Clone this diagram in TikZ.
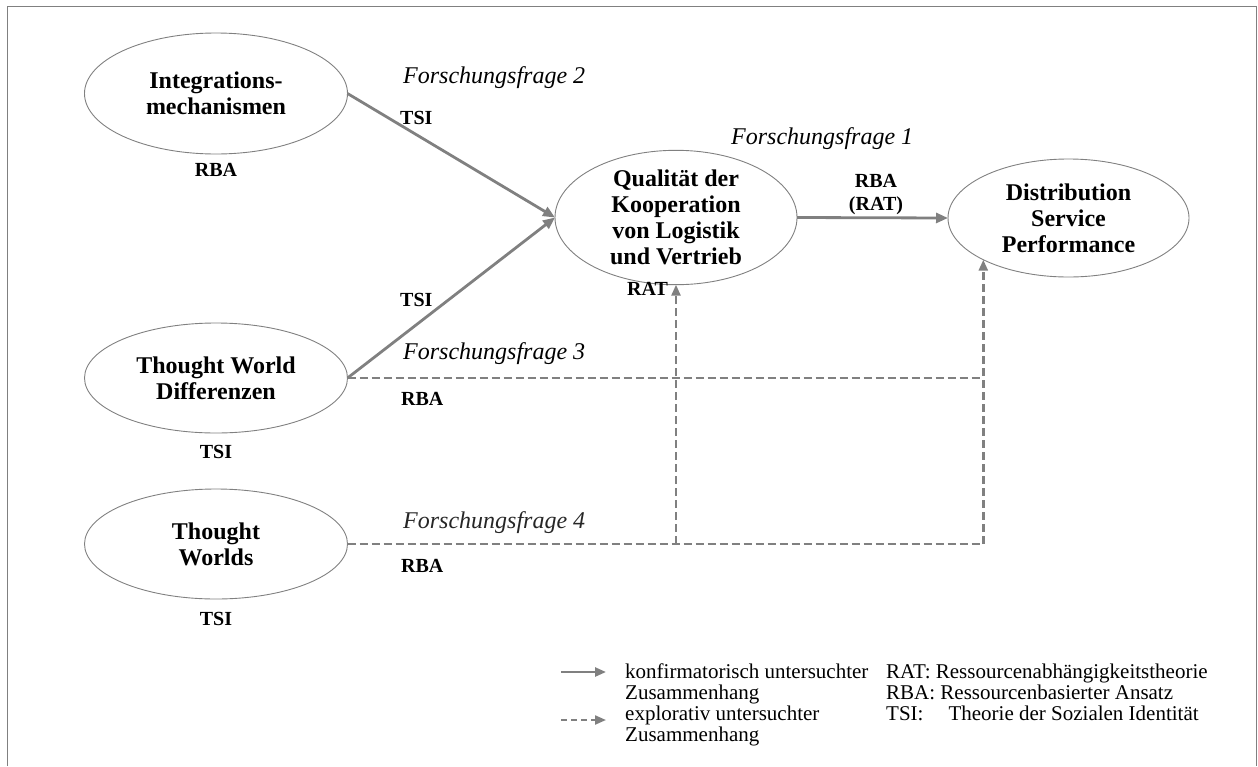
\documentclass[tikz,border=0pt]{standalone}
\usepackage{fontspec}
\setmainfont{Liberation Serif}
\usetikzlibrary{arrows.meta,shapes.geometric}
\definecolor{lg}{RGB}{128,128,128}
\begin{document}
\begin{tikzpicture}[x=1pt,y=-1pt,
  ell/.style={draw=lg,line width=0.9pt,ellipse,inner sep=0pt,outer sep=0pt,align=center,font=\fontsize{24}{26}\selectfont\bfseries},
  lab/.style={font=\fontsize{20}{22}\selectfont\bfseries,inner sep=0pt,anchor=base},
  labw/.style={lab,anchor=base west},
  ff/.style={font=\fontsize{24}{26}\selectfont\itshape,inner sep=0pt,anchor=base west},
  leg/.style={font=\fontsize{21}{22}\selectfont,inner sep=0pt,anchor=base west},
  conf/.style={draw=lg,line width=2.8pt,-{Triangle[length=12pt,width=10pt]}},
  expl/.style={draw=lg,line width=2.5pt,dash pattern=on 8pt off 4pt},
  explarr/.style={expl,-{Triangle[length=11pt,width=9pt]}},
]
\useasboundingbox (0,0) rectangle (1258,766);
\draw[lg,line width=1pt] (7,766) -- (7,6) -- (1256,6) -- (1256,766);

% nodes
\node[ell,minimum width=263pt,minimum height=121pt] (im) at (216,93.5) {Integrations-\\mechanismen};
\node[ell,minimum width=263pt,minimum height=110pt] (twd) at (216,378) {Thought World\\Differenzen};
\node[ell,minimum width=263pt,minimum height=110pt] (tw) at (216,544) {Thought\\Worlds};
\node[ell,minimum width=242pt,minimum height=119pt] (q) at (676,217.5) {Qualität der\\Kooperation\\von Logistik\\und Vertrieb};
\node[ell,minimum width=241pt,minimum height=118pt] (dsp) at (1068.5,218) {Distribution\\Service\\Performance};

% labels
\node[lab] (rba1) at (216,176) {RBA};
\node[ff] (ff2) at (403,83) {Forschungsfrage 2};
\node[labw] (tsi1) at (400,124) {TSI};
\node[labw] (tsi2) at (400,306) {TSI};
\node[ff] (ff3) at (403,359) {Forschungsfrage 3};
\node[labw] (rba3) at (401,405) {RBA};
\node[lab] (tsi3) at (216,458) {TSI};
\node[ff,text=black!85] (ff4) at (403,528) {Forschungsfrage 4};
\node[labw] (rba4) at (401,572) {RBA};
\node[lab] (tsi4) at (216,625) {TSI};
\node[ff] (ff1) at (731,144) {Forschungsfrage 1};
\node[lab] (rbaq) at (876,187) {RBA};
\node[lab] (ratq) at (876,210) {(RAT)};
\node[lab] (rat1) at (647.5,295) {RAT};

% connectors
\draw[conf] (im.east) -- (q.west);
\draw[conf] (twd.east) -- (q.west);
\draw[conf] (q.east) -- (dsp.west);
\draw[expl] (twd.east) -- (twd.east -| dsp.south west);
\draw[explarr] (tw.east) -- (tw.east -| dsp.south west) -- (dsp.south west);
\draw[explarr] (tw.east -| q.south) -- (q.south);

% legend
\coordinate (l1a) at (561,672);
\coordinate (l1b) at (606,672);
\coordinate (l2a) at (561,720);
\coordinate (l2b) at (606,720);
\draw[draw=lg,line width=2.5pt,-{Triangle[length=11pt,width=9pt]}] (l1a) -- (l1b);
\draw[draw=lg,line width=2.2pt,dash pattern=on 6pt off 4pt,-{Triangle[length=11pt,width=9pt]}] (l2a) -- (l2b);
\node[leg] (lt1) at (625,678) {konfirmatorisch untersuchter};
\node[leg] (lt2) at (625,699) {Zusammenhang};
\node[leg] (lt3) at (625,720) {explorativ untersuchter};
\node[leg] (lt4) at (625,741) {Zusammenhang};
\node[leg] (lr1) at (886,678) {RAT: Ressourcenabhängigkeitstheorie};
\node[leg] (lr2) at (886,699) {RBA: Ressourcenbasierter Ansatz};
\node[leg] (lr3) at (886,720) {TSI:\hspace*{25pt}Theorie der Sozialen Identität};
\end{tikzpicture}
\end{document}
